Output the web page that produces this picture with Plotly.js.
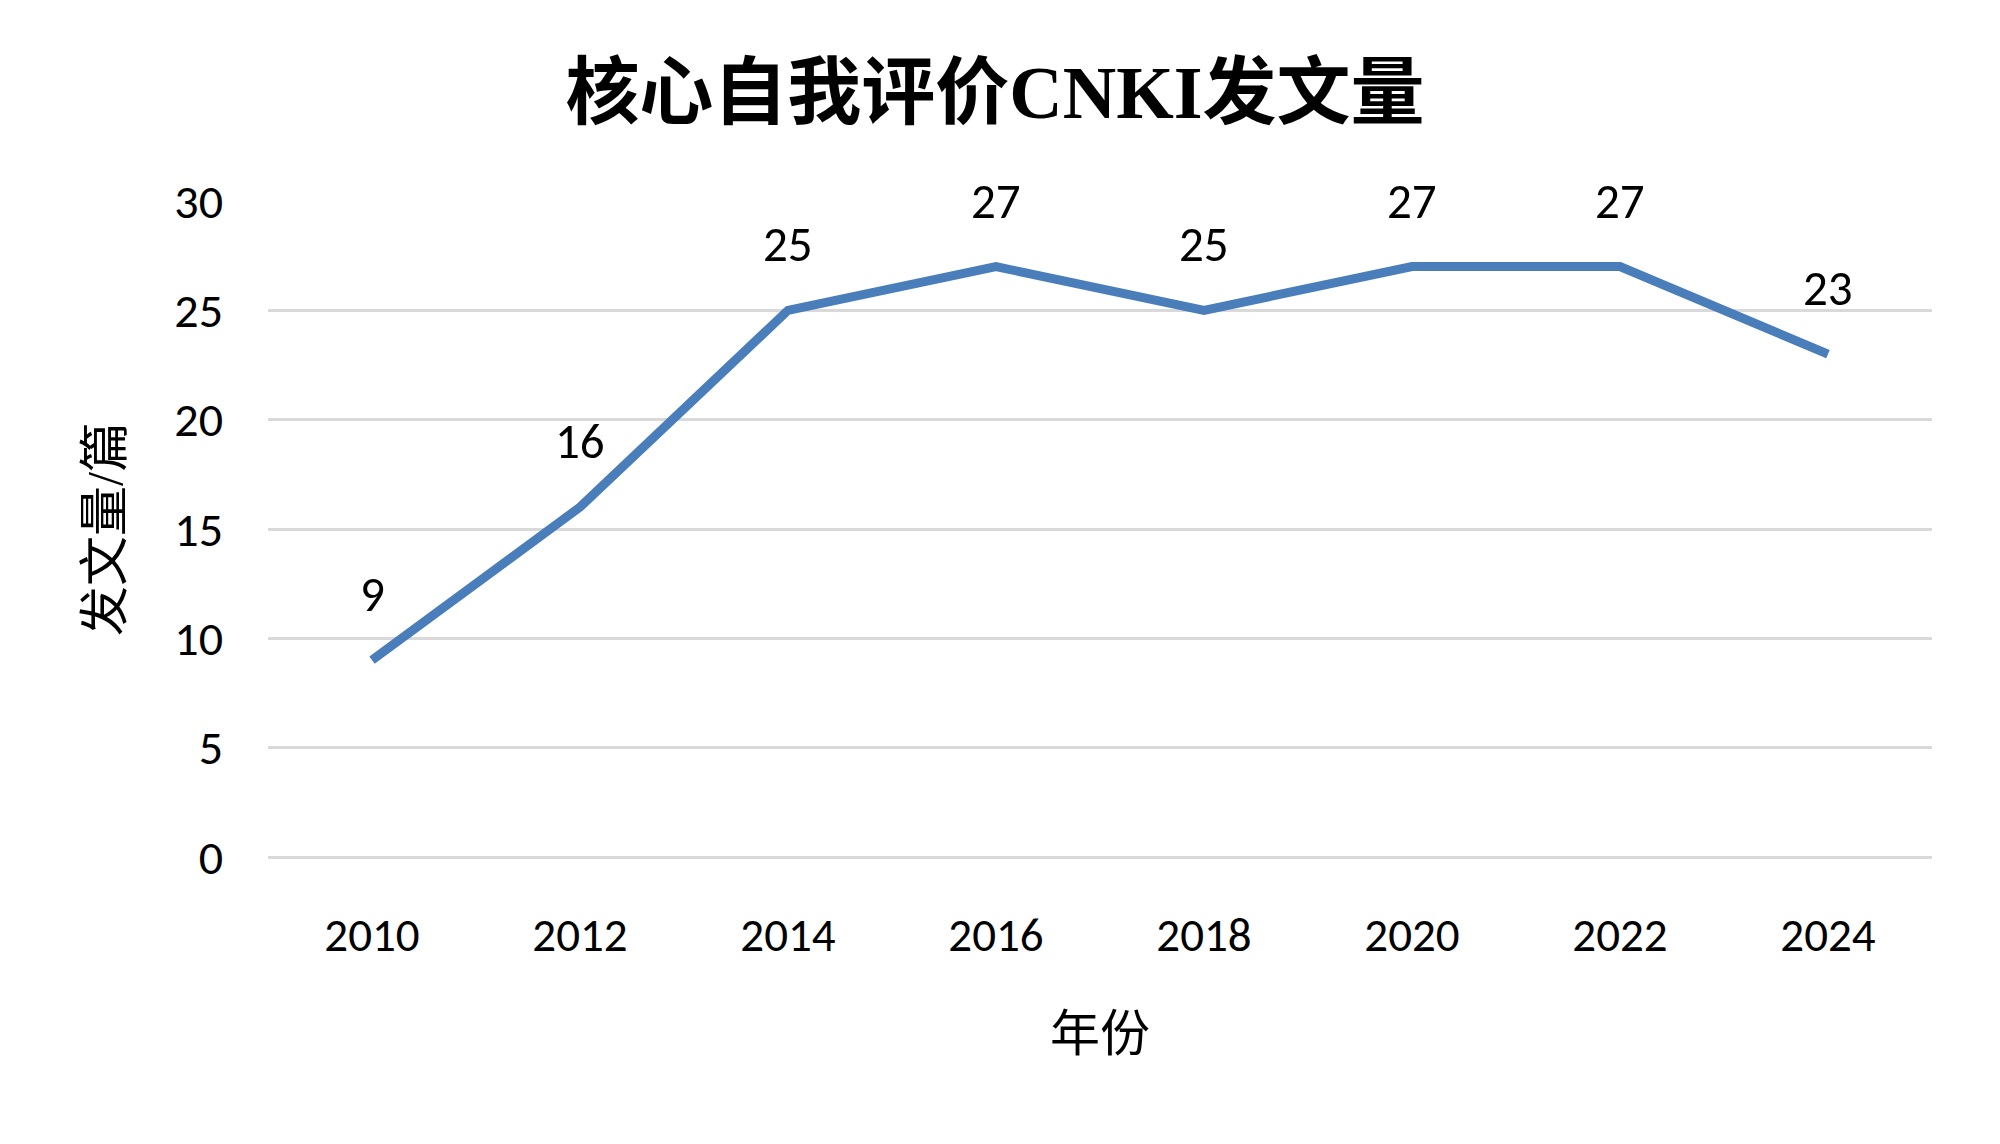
<!DOCTYPE html>
<html>
<head>
<meta charset="utf-8">
<script src="https://cdn.plot.ly/plotly-3.0.1.min.js"></script>
<style>html,body{margin:0;padding:0;background:#fff;}#chart{width:2000px;height:1144px;}</style>
</head>
<body>
<div id="chart"></div>
<script>
const years = ['2010','2012','2014','2016','2018','2020','2022','2024'];
const counts = [9,16,25,27,25,27,27,23];
const titleText = '核心自我评价CNKI发文量';
const xTitle = '年份';
const yTitle = '发文量/篇';

const numFont = 'Carlito, Lato, "Noto Sans", sans-serif';
const cjkFont = '"Liberation Serif", "Noto Sans CJK SC", serif';

const trace = {
  x: years,
  y: counts,
  type: 'scatter',
  mode: 'lines',
  line: {color: '#4A7EBB', width: 9},
  hoverinfo: 'skip'
};

// annotation x given as category index (position of each year in the category axis)
const annotations = years.map((yr, i) => ({
  x: i, y: counts[i], xref: 'x', yref: 'y',
  text: String(counts[i]), showarrow: false,
  yshift: 66, font: {family: numFont, size: 49, color: '#000'}
}));

const layout = {
  width: 2000, height: 1144,
  paper_bgcolor: '#fff', plot_bgcolor: '#fff',
  margin: {l: 268, r: 68, t: 201, b: 287},
  showlegend: false,
  title: {
    text: '<b>' + titleText + '</b>',
    x: 995/2000, xanchor: 'center', xref: 'container',
    y: 1 - 92/1144, yanchor: 'middle', yref: 'container',
    font: {family: cjkFont, size: 74, color: '#000'}
  },
  xaxis: {
    type: 'category',
    categoryorder: 'array', categoryarray: years,
    range: [-0.5, years.length - 0.5],
    showgrid: false, zeroline: false, showline: false,
    ticks: '', ticklabelstandoff: 46,
    tickfont: {family: numFont, size: 47, color: '#000'},
    title: {text: xTitle, standoff: 52, font: {family: cjkFont, size: 50, color: '#000'}},
    automargin: false
  },
  yaxis: {
    range: [0, 30], dtick: 5, tick0: 0,
    showgrid: true, gridcolor: '#D9D9D9', gridwidth: 3,
    zeroline: true, zerolinecolor: '#D9D9D9', zerolinewidth: 3,
    showline: false, ticks: '', ticklabelstandoff: 44,
    tickfont: {family: numFont, size: 48, color: '#000'},
    title: {text: yTitle, standoff: 35, font: {family: cjkFont, size: 50, color: '#000'}},
    automargin: false
  },
  annotations: annotations
};

Plotly.newPlot('chart', [trace], layout, {displayModeBar: false, staticPlot: true});
</script>
</body>
</html>
